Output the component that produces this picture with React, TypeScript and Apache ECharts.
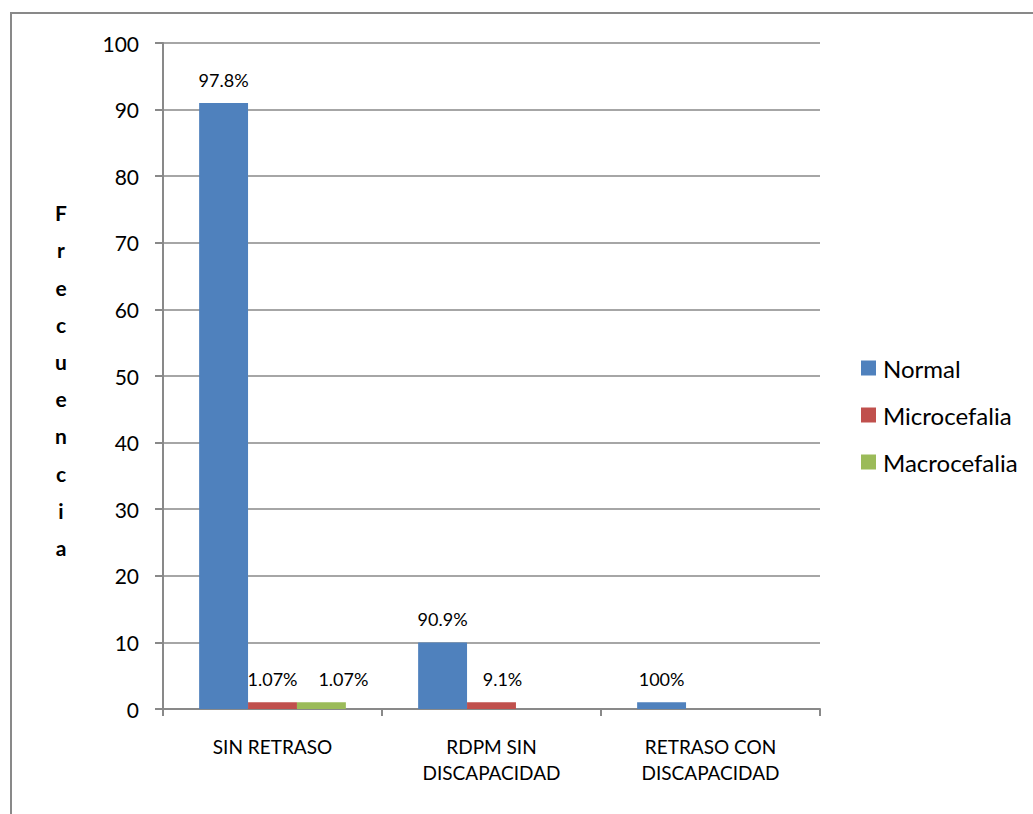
import React, { useEffect, useRef } from "react";
import * as echarts from "echarts";

const categories = ["SIN RETRASO", "RDPM SIN\nDISCAPACIDAD", "RETRASO CON\nDISCAPACIDAD"];
const normalValues = [91, 10, 1];
const microValues = [1, 1, 0];
const macroValues = [1, 0, 0];
const normalLabels = ["97.8%", "90.9%", "100%"];
const microLabels = ["1.07%", "9.1%", ""];
const macroLabels = ["1.07%", "", ""];
const yTicks = [0, 10, 20, 30, 40, 50, 60, 70, 80, 90, 100];
const yAxisTitle = "Frecuencia";

// horizontal nudges that keep neighbouring value labels apart
const normalLabelShift = [0, 0, 0];
const microLabelShift = [0, 11, 0];
const macroLabelShift = [22, 0, 0];

const FONT = "Lato, 'Open Sans', sans-serif";
const GRAY = "#898989";

function makeSeries(
  name: string,
  values: number[],
  labels: string[],
  shifts: number[],
  color: string
) {
  return {
    name,
    type: "bar",
    barGap: "0%",
    barCategoryGap: "33%",
    itemStyle: { color },
    data: values.map((v, i) => ({
      value: v,
      label: {
        show: labels[i] !== "",
        formatter: labels[i],
        offset: [shifts[i], 0],
      },
    })),
    label: {
      position: "top",
      distance: 14,
      color: "#000",
      fontSize: 18,
      fontFamily: FONT,
    },
  };
}

export default function App() {
  const ref = useRef<HTMLDivElement>(null);

  useEffect(() => {
    if (!ref.current) return;
    const chart = echarts.init(ref.current, null, { renderer: "svg" });
    chart.setOption({
      animation: false,
      backgroundColor: "#fff",
      textStyle: { fontFamily: FONT },
      graphic: [
        {
          type: "rect",
          shape: { x: 11, y: 13, width: 1040, height: 830 },
          style: { fill: "none", stroke: GRAY, lineWidth: 2 },
          silent: true,
        },
        {
          type: "text",
          x: 61,
          y: 194,
          style: {
            text: yAxisTitle.split("").join("\n"),
            font: `bold 21px ${FONT}`,
            lineHeight: 37.2,
            fill: "#000",
            align: "center",
            verticalAlign: "top",
          },
        },
      ],
      legend: {
        orient: "vertical",
        left: 856,
        top: 351,
        itemWidth: 15,
        itemHeight: 15,
        itemGap: 23,
        icon: "rect",
        textStyle: {
          fontSize: 24,
          lineHeight: 24,
          color: "#000",
          fontFamily: FONT,
          padding: [0, 0, 0, 2],
        },
        data: ["Normal", "Microcefalia", "Macrocefalia"],
      },
      grid: { left: 163, right: 213, top: 43, bottom: 105 },
      xAxis: {
        type: "category",
        data: categories,
        axisLine: { lineStyle: { color: GRAY, width: 2 } },
        axisTick: { show: true, length: 7, lineStyle: { color: GRAY, width: 2 } },
        axisLabel: {
          color: "#000",
          fontSize: 19,
          lineHeight: 26,
          margin: 24,
          fontFamily: FONT,
        },
      },
      yAxis: {
        type: "value",
        min: yTicks[0],
        max: yTicks[yTicks.length - 1],
        interval: yTicks[1] - yTicks[0],
        axisLine: { show: true, lineStyle: { color: GRAY, width: 2 } },
        axisTick: { show: true, length: 8, lineStyle: { color: GRAY, width: 2 } },
        splitLine: { lineStyle: { color: GRAY, width: 1.5 } },
        axisLabel: { color: "#000", fontSize: 21, margin: 24, fontFamily: FONT },
      },
      series: [
        makeSeries("Normal", normalValues, normalLabels, normalLabelShift, "#4F81BD"),
        makeSeries("Microcefalia", microValues, microLabels, microLabelShift, "#C0504D"),
        makeSeries("Macrocefalia", macroValues, macroLabels, macroLabelShift, "#9BBB59"),
      ],
    });
    return () => chart.dispose();
  }, []);

  return (
    <div
      ref={ref}
      style={{ position: "fixed", left: 0, top: 0, width: 1033, height: 814 }}
    />
  );
}
